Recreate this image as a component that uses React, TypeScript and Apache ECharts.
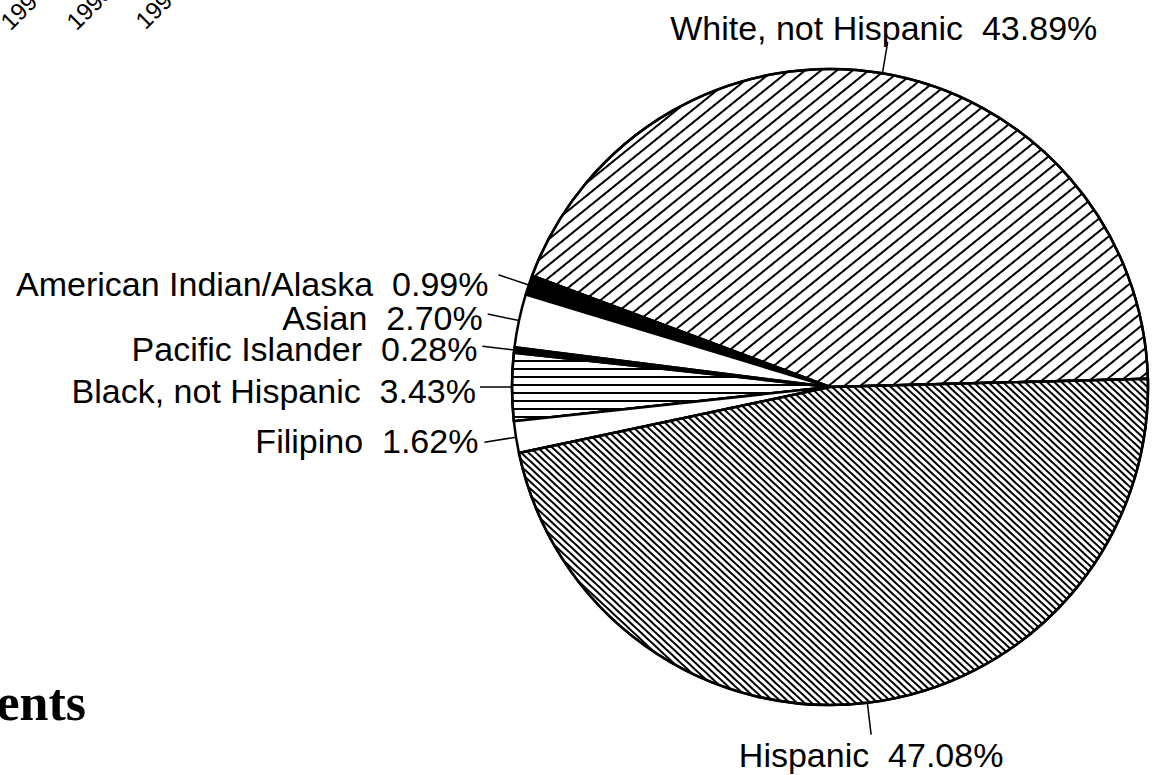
import React, { useEffect, useRef } from 'react';
import * as echarts from 'echarts';

// ---- data ----
const categories: string[] = [
  'White, not Hispanic',
  'American Indian/Alaska',
  'Asian',
  'Pacific Islander',
  'Black, not Hispanic',
  'Filipino',
  'Hispanic',
];
const percents: number[] = [43.89, 0.99, 2.7, 0.28, 3.43, 1.62, 47.08];
const yearLabels: string[] = ['1994', '1995', '1996'];
const headingFragment = 'ents';

const SANS = "'Liberation Sans', Arial, Helvetica, sans-serif";
const SERIF = "'Liberation Serif', 'Times New Roman', serif";

function hatch(rotation: number, line: number, gap: number) {
  return {
    symbol: 'rect',
    symbolSize: 1,
    dashArrayX: [1, 0],
    dashArrayY: [line, gap],
    rotation,
    color: '#000',
    backgroundColor: '#fff',
  };
}

const sliceStyle: Record<string, any> = {
  'White, not Hispanic': { color: '#fff', decal: hatch(-0.68, 1.6, 8) },
  'American Indian/Alaska': { color: '#000' },
  Asian: { color: '#fff' },
  'Pacific Islander': { color: '#000' },
  'Black, not Hispanic': { color: '#fff', decal: hatch(0, 2, 5.5) },
  Filipino: { color: '#fff' },
  Hispanic: { color: '#fff', decal: hatch(0.75, 1.9, 2.6) },
};

// labels centred over their leader line: [dx, dy] of the text
const centredLabelOffset: Record<string, number[]> = {
  'White, not Hispanic': [-4, -14],
  Hispanic: [0, 20],
};
// side labels: [dx, dy] nudges
const sideLabelOffset: Record<string, number[]> = {
  'American Indian/Alaska': [-10, 9],
  Asian: [-5, 4],
  'Pacific Islander': [-5, 3],
  'Black, not Hispanic': [-4, 4],
  Filipino: [-6, -1],
};

export default function App() {
  const ref = useRef<HTMLDivElement>(null);

  useEffect(() => {
    if (!ref.current) return;
    const chart = echarts.init(ref.current, null, { renderer: 'svg' });

    const data = categories.map((name, i) => ({
      name,
      value: percents[i],
      itemStyle: {
        borderColor: '#000',
        borderWidth: 2.5,
        ...sliceStyle[name],
      },
    }));

    const yearX = [13, 79, 148];
    const yearY = [34, 34, 33];

    const option: any = {
      animation: false,
      backgroundColor: '#fff',
      series: [
        {
          type: 'pie',
          center: [830, 387],
          radius: 318,
          startAngle: 1.5,
          clockwise: false,
          avoidLabelOverlap: false,
          data,
          label: {
            show: true,
            position: 'outside',
            color: '#000',
            fontFamily: SANS,
            fontSize: 34,
            lineHeight: 30,
            width: 700,
            overflow: 'none',
            distanceToLabelLine: 3,
            formatter: (p: any) => `${p.name}  ${Number(p.value).toFixed(2)}%`,
          },
          labelLine: {
            show: true,
            length: 32,
            length2: 0,
            smooth: false,
            lineStyle: { color: '#000', width: 1.5 },
          },
          labelLayout: (params: any) => {
            const name = categories[params.dataIndex];
            const pts = params.labelLinePoints;
            if (!pts) return {};
            const end = pts[pts.length - 1];
            const c = centredLabelOffset[name];
            if (c) {
              return {
                x: end[0] + c[0],
                y: end[1] + c[1],
                align: 'center',
                verticalAlign: 'middle',
                labelLinePoints: pts,
              };
            }
            const s = sideLabelOffset[name] || [0, 0];
            return {
              x: end[0] + s[0],
              y: end[1] + s[1],
              align: 'right',
              verticalAlign: 'middle',
              labelLinePoints: pts,
            };
          },
          emphasis: { disabled: true },
        },
      ],
      graphic: [
        ...yearLabels.map((t, i) => ({
          type: 'text',
          x: yearX[i],
          y: yearY[i],
          rotation: Math.PI / 4,
          style: {
            text: t,
            fontFamily: SANS,
            fontSize: 24,
            fill: '#000',
            textAlign: 'left',
            textVerticalAlign: 'bottom',
          },
        })),
        {
          type: 'text',
          x: 86,
          y: 702,
          style: {
            text: headingFragment,
            fontFamily: SERIF,
            fontSize: 52,
            fontWeight: 'bold',
            fill: '#000',
            textAlign: 'right',
            textVerticalAlign: 'middle',
          },
        },
      ],
    };

    chart.setOption(option);
    return () => chart.dispose();
  }, []);

  return (
    <div
      ref={ref}
      style={{ position: 'fixed', left: 0, top: 0, width: 1163, height: 775, background: '#fff' }}
    />
  );
}
